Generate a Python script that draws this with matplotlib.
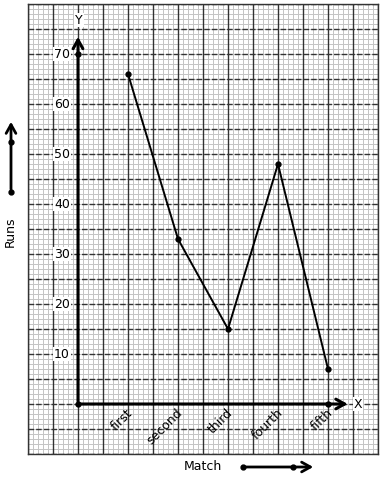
import numpy as np
import matplotlib
matplotlib.use('Agg')
import matplotlib.pyplot as plt

matches = ['first', 'second', 'third', 'fourth', 'fifth']
runs = [66, 33, 15, 48, 7]
y_ticks = [10, 20, 30, 40, 50, 60, 70]

fig = plt.figure(figsize=(3.83, 4.8), dpi=100)
ax = fig.add_axes([28 / 383, 26 / 480, 350 / 383, 450 / 480])
ax.set_xlim(-1, 6)
ax.set_ylim(-10, 80)

# graph paper
for v in np.arange(-1, 6.01, 0.1):
    ax.axvline(v, color='#c4c4c4', lw=0.7, zorder=0)
for v in np.arange(-10, 80.01, 1):
    ax.axhline(v, color='#c4c4c4', lw=0.7, zorder=0)
for v in np.arange(-1, 6.01, 0.5):
    ax.axvline(v, color='#333333', lw=1.0, zorder=1)
for v in np.arange(-10, 80.01, 5):
    ax.axhline(v, color='#333333', lw=1.0, ls=(0, (4, 1.5)), zorder=1)

ax.set_xticks([])
ax.set_yticks([])
for s in ax.spines.values():
    s.set_color('#333333')
    s.set_linewidth(1.0)

arrow = '->, head_length=0.45, head_width=0.25'

# axes with arrows
ax.annotate('', xy=(0, 74), xytext=(0, 0),
            arrowprops=dict(arrowstyle=arrow, lw=2.2, color='black', mutation_scale=14), zorder=4)
ax.annotate('', xy=(5.45, 0), xytext=(0, 0),
            arrowprops=dict(arrowstyle=arrow, lw=2.2, color='black', mutation_scale=14), zorder=4)
ax.plot([0, 0, 5], [0, 70, 0], 'o', color='black', ms=3.5, zorder=5)
ax.text(0.02, 76.8, 'Y', ha='center', va='center', fontsize=9,
        bbox=dict(facecolor='white', edgecolor='none', pad=0.5), zorder=5)
ax.text(5.52, 0, 'X', ha='left', va='center', fontsize=9,
        bbox=dict(facecolor='white', edgecolor='none', pad=0.5), zorder=5)

for t in y_ticks:
    ax.text(-0.32, t, str(t), ha='center', va='center', fontsize=9,
            bbox=dict(facecolor='white', edgecolor='none', pad=0.5), zorder=5)

xs = np.arange(1, len(matches) + 1)
ax.plot(xs, runs, '-o', color='black', lw=1.4, ms=3.5, zorder=5)
for x, lab in zip(xs, matches):
    ax.text(x + 0.15, -0.5, lab, rotation=45, ha='right', va='top', fontsize=9, zorder=5)

# outside labels with arrows
ax.text(-1.36, 34.4, 'Runs', rotation=90, ha='center', va='center', fontsize=9, clip_on=False)
ax.annotate('', xy=(-1.34, 57), xytext=(-1.34, 42.4), annotation_clip=False,
            arrowprops=dict(arrowstyle=arrow, lw=2.0, color='black', mutation_scale=14))
ax.plot([-1.34, -1.34], [42.4, 52.4], 'o', color='black', ms=3.5, clip_on=False)

ax.text(2.5, -12.4, 'Match', ha='center', va='center', fontsize=9, clip_on=False)
ax.annotate('', xy=(4.76, -12.6), xytext=(3.3, -12.6), annotation_clip=False,
            arrowprops=dict(arrowstyle=arrow, lw=2.0, color='black', mutation_scale=14))
ax.plot([3.3, 4.3], [-12.6, -12.6], 'o', color='black', ms=3.5, clip_on=False)

fig.savefig('out.png', dpi=100)
